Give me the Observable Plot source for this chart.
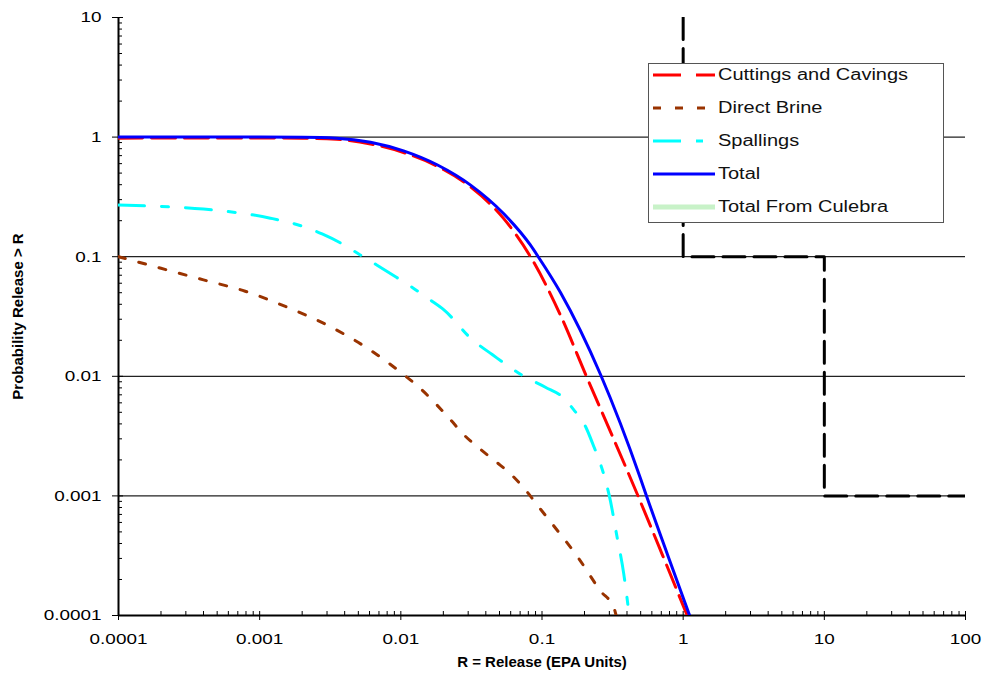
<!DOCTYPE html>
<html><head><meta charset="utf-8">
<script src="https://cdn.jsdelivr.net/npm/d3@7"></script>
<script src="https://cdn.jsdelivr.net/npm/@observablehq/plot@0.6"></script>
<style>
body{margin:0;background:#fff}
#wrap{position:relative;width:985px;height:681px;overflow:hidden}
#legend{position:absolute;left:648px;top:63px;width:294px;height:158px;border:1px solid #555;background:#fff;font-family:'Liberation Sans',Arial,sans-serif;font-size:16px;color:#111}
.row{position:absolute;left:0;height:20px;display:flex;align-items:center;white-space:nowrap}
.row svg{margin-left:4px;margin-right:3px;flex:none}
.row span{display:inline-block;transform:scaleX(1.25);transform-origin:left center}
</style>
</head><body><div id="wrap"><div id="legend"></div></div>
<script>
// ---- data ----
const xTicks = [0.0001, 0.001, 0.01, 0.1, 1, 10, 100];
const xTickLabels = ["0.0001", "0.001", "0.01", "0.1", "1", "10", "100"];
const yTicks = [0.0001, 0.001, 0.01, 0.1, 1, 10];
const yTickLabels = ["0.0001", "0.001", "0.01", "0.1", "1", "10"];
const minorMultipliers = [2, 3, 4, 5, 6, 7, 8, 9];

const cuttingsR = [0.0001, 0.001, 0.002, 0.0035, 0.0061, 0.01045, 0.0182, 0.0312, 0.0534, 0.0829, 0.1352, 0.2066, 0.3157, 0.4786, 0.7137, 1.068];
const cuttingsP = [0.98, 0.982, 0.978, 0.958, 0.877, 0.743, 0.569, 0.383, 0.209, 0.1, 0.0324, 0.00996, 0.00315, 0.001, 0.00032, 0.0001];

const brineR = [0.0001, 0.0002, 0.0004, 0.00079, 0.00161, 0.00313, 0.00583, 0.0105, 0.0136, 0.0222, 0.0279, 0.0362, 0.0475, 0.0623, 0.0784, 0.0963, 0.12, 0.182, 0.26, 0.324, 0.335];
const brineP = [0.1, 0.08, 0.064, 0.0514, 0.0373, 0.0262, 0.0171, 0.0103, 0.008, 0.0044, 0.00325, 0.00248, 0.00192, 0.00146, 0.00108, 0.00079, 0.00057, 0.0003, 0.00016, 0.000115, 0.0001];

const spallR = [0.0001, 0.00017, 0.0004, 0.00119, 0.002, 0.00277, 0.00384, 0.00512, 0.00679, 0.0093, 0.0122, 0.016, 0.0201, 0.032, 0.0444, 0.0743, 0.1057, 0.142, 0.1675, 0.203, 0.226, 0.281, 0.3, 0.34, 0.379, 0.41, 0.415];
const spallP = [0.27, 0.265, 0.25, 0.21, 0.18, 0.155, 0.128, 0.104, 0.0849, 0.0673, 0.0548, 0.0438, 0.0361, 0.0203, 0.0152, 0.01, 0.0081, 0.0066, 0.00526, 0.00382, 0.00283, 0.00136, 0.001, 0.000455, 0.000225, 0.000112, 0.0001];

const totalR = [0.0001, 0.001, 0.002, 0.0035, 0.0061, 0.01045, 0.0182, 0.0312, 0.0534, 0.0829, 0.094, 0.1352, 0.2597, 0.4985, 0.55, 0.774, 1.111];
const totalP = [1, 1, 0.997, 0.98, 0.906, 0.767, 0.584, 0.397, 0.2297, 0.1248, 0.1, 0.0502, 0.01035, 0.0014, 0.001, 0.000324, 0.0001];

const culebraR = [];
const culebraP = [];

const limitR = [1, 1, 10, 10, 100];
const limitP = [10, 0.1, 0.1, 0.001, 0.001];

const seriesNames = ["Cuttings and Cavings", "Direct Brine", "Spallings", "Total", "Total From Culebra"];
const xTitle = "R = Release (EPA Units)";
const yTitle = "Probability Release > R";

// ---- build ----
const series = [
  {name: seriesNames[0], r: cuttingsR, p: cuttingsP, stroke: "#ff0000", dash: "24,9", legendDash: "28,15", w: 3},
  {name: seriesNames[1], r: brineR, p: brineP, stroke: "#993300", dash: "7,14", legendDash: "8,14", w: 3},
  {name: seriesNames[2], r: spallR, p: spallP, stroke: "#00ffff", dash: "26,17,7,17", legendDash: "28,15,7,15", w: 3},
  {name: seriesNames[3], r: totalR, p: totalP, stroke: "#0000ff", dash: null, legendDash: null, w: 3},
  {name: seriesNames[4], r: culebraR, p: culebraP, stroke: "#c8f2c8", dash: null, legendDash: null, w: 5}
];
const toRows = s => s.r.map((r, i) => ({x: r, y: s.p[i]}));
const xMinor = xTicks.slice(0, -1).flatMap(d => minorMultipliers.map(m => m * d));
const yMinor = yTicks.slice(0, -1).flatMap(d => minorMultipliers.map(m => m * d));
const font = "'Liberation Sans', Arial, sans-serif";
const blank = () => "";

const chart = Plot.plot({
  width: 985, height: 681,
  marginLeft: 118, marginRight: 20, marginTop: 17, marginBottom: 66,
  x: {type: "log", domain: [1e-4, 100]},
  y: {type: "log", domain: [1e-4, 10]},
  style: {fontFamily: font, fontSize: "15px", color: "#000", background: "#fff"},
  marks: [
    Plot.ruleY(yTicks.slice(1, -1), {stroke: "#222", strokeWidth: 1.2}),
    Plot.axisY(yMinor, {tickSize: -4, tickFormat: blank, label: null}),
    Plot.axisY(yTicks, {tickSize: -5, tickFormat: blank, label: null}),
    Plot.axisY(yTicks, {tickSize: 6, tickPadding: 11, tickFormat: d => yTickLabels[yTicks.indexOf(d)], label: null, fontSize: 15}),
    Plot.axisX(xMinor, {tickSize: -4, tickFormat: blank, label: null}),
    Plot.axisX(xTicks, {tickSize: -4, tickFormat: blank, label: null}),
    Plot.axisX(xTicks, {tickSize: 5, tickPadding: 13, tickFormat: d => xTickLabels[xTicks.indexOf(d)], label: null, fontSize: 15}),
    Plot.ruleX([1e-4], {stroke: "#000", strokeWidth: 2}),
    Plot.ruleY([1e-4], {stroke: "#000", strokeWidth: 2}),
    Plot.line(limitR.map((r, i) => ({x: r, y: limitP[i]})), {x: "x", y: "y", stroke: "#000", strokeWidth: 3, strokeDasharray: "22,9", clip: true}),
    ...series.filter(s => s.r.length).map(s =>
      Plot.line(toRows(s), {x: "x", y: "y", stroke: s.stroke, strokeWidth: s.w, strokeDasharray: s.dash, curve: "monotone-x", clip: true})
    ),
    Plot.text([xTitle], {frameAnchor: "bottom", dy: 51, textAnchor: "middle", fontWeight: "bold", fontSize: 15, fontFamily: font}),
    Plot.text([yTitle], {frameAnchor: "left", dx: -100, rotate: -90, textAnchor: "middle", fontWeight: "bold", fontSize: 15, fontFamily: font})
  ]
});
document.getElementById("wrap").prepend(chart);

// widen tick labels like the reference's stretched text
chart.querySelectorAll('g[aria-label$="tick label"] text').forEach(t => {
  const len = t.getComputedTextLength();
  if (len > 0) {
    t.setAttribute("textLength", (len * 1.26).toFixed(1));
    t.setAttribute("lengthAdjust", "spacingAndGlyphs");
  }
});

// legend
const legend = document.getElementById("legend");
const rowTops = [1, 34, 67, 100, 133];
series.forEach((s, i) => {
  const row = document.createElement("div");
  row.className = "row";
  row.style.top = rowTops[i] + "px";
  const dashAttr = s.legendDash ? `stroke-dasharray="${s.legendDash}"` : "";
  row.innerHTML = `<svg width="62" height="20"><line x1="0" x2="62" y1="10" y2="10" stroke="${s.stroke}" stroke-width="${s.w}" ${dashAttr}/></svg><span>${s.name}</span>`;
  legend.appendChild(row);
});
</script>
</body></html>
